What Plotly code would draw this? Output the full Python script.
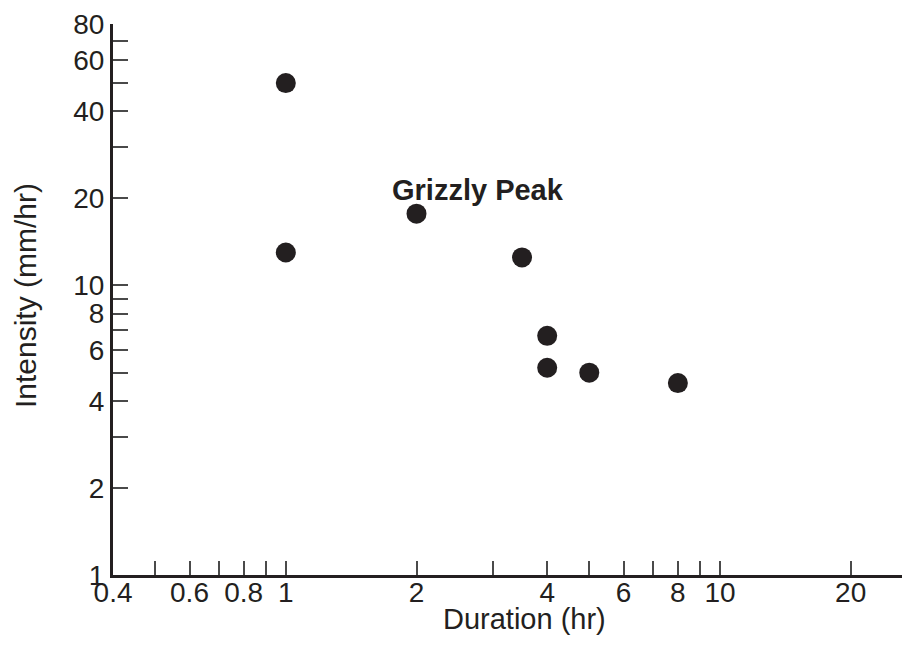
import math
import plotly.graph_objects as go

# ---- data ----
duration_hr = [1, 1, 2, 3.5, 4, 4, 5, 8]
intensity_mmhr = [50, 13, 17.7, 12.5, 6.7, 5.2, 5.0, 4.6]
label_text = "Grizzly Peak"
label_point = (2, 17.7)

# axis extents
x_min, x_max = 0.3999, 29.2
y_min, y_max = 1.0, 80.01

# tick labels / tick marks
x_label_vals = [0.4, 0.6, 0.8, 1, 2, 4, 6, 8, 10, 20]
x_label_text = ["0.4", "0.6", "0.8", "1", "2", "4", "6", "8", "10", "20"]
x_minor_bottom = [0.5, 0.7, 0.9, 3, 5, 7, 9]
x_long = [1, 10]
x_minor_top = [0.5, 1.111, 1.25, 1.4286, 1.6667, 2, 2.5, 3.333, 5,
               11.11, 12.5, 14.29, 16.67, 20]

y_label_vals = [1, 2, 4, 6, 8, 10, 20, 40, 60, 80]
y_label_text = ["1", "2", "4", "6", "8", "10", "20", "40", "60", "80"]
y_minor_left = [3, 5, 7, 9, 30, 50, 70]
y_long = [10]
y_minor_right = [2, 3, 4, 5, 6, 7, 8, 9, 20, 30, 40, 50, 60, 70]

INK = "#231f20"
TICK = "#4a4a4a"
FONT = "Liberation Sans, Arial, sans-serif"
TS = 28

xr = [math.log10(x_min), math.log10(x_max)]
yr = [math.log10(y_min), math.log10(y_max)]

fig = go.Figure()
fig.add_trace(go.Scatter(
    x=duration_hr, y=intensity_mmhr, mode="markers",
    marker=dict(size=20, color=INK, line=dict(width=0)),
    showlegend=False, hoverinfo="skip", cliponaxis=False,
))

common = dict(type="log", showgrid=False, zeroline=False)

fig.update_layout(
    width=914, height=638,
    margin=dict(l=105, r=0, t=16, b=71),
    paper_bgcolor="white", plot_bgcolor="white",
    font=dict(family=FONT, size=TS, color=INK),
    xaxis=dict(**common, range=xr, tickmode="array", tickvals=x_label_vals,
               ticktext=x_label_text, ticks="inside", ticklen=14, tickwidth=1.5,
               tickcolor=TICK, showline=True, linewidth=3, linecolor=INK,
               tickfont=dict(size=TS, color=INK), ticklabelstandoff=-10,
               minor=dict(tickmode="array", tickvals=x_minor_bottom, ticks="inside",
                          ticklen=14, tickwidth=1.5, tickcolor=TICK)),
    xaxis2=dict(**common, range=xr, overlaying="x", side="top", anchor="y",
                tickmode="array", tickvals=x_long, ticks="inside", ticklen=30,
                tickwidth=1.5, tickcolor=TICK, showticklabels=False,
                showline=True, linewidth=3, linecolor=INK,
                minor=dict(tickmode="array", tickvals=x_minor_top, ticks="inside",
                           ticklen=15, tickwidth=1.5, tickcolor=TICK)),
    xaxis3=dict(**common, range=xr, overlaying="x", side="bottom", anchor="y",
                tickmode="array", tickvals=x_long, ticks="inside", ticklen=29,
                tickwidth=1.5, tickcolor=INK, showticklabels=False, showline=False),
    yaxis=dict(**common, range=yr, tickmode="array", tickvals=y_label_vals,
               ticktext=y_label_text, ticks="inside", ticklen=15, tickwidth=1.5,
               tickcolor=TICK, showline=True, linewidth=3, linecolor=INK,
               tickfont=dict(size=TS, color=INK), ticklabelstandoff=0,
               minor=dict(tickmode="array", tickvals=y_minor_left, ticks="inside",
                          ticklen=15, tickwidth=1.5, tickcolor=TICK)),
    yaxis2=dict(**common, range=yr, overlaying="y", side="right", anchor="x",
                tickmode="array", tickvals=y_long, ticks="inside", ticklen=29,
                tickwidth=1.5, tickcolor=INK, showticklabels=False,
                showline=True, linewidth=3, linecolor=INK,
                minor=dict(tickmode="array", tickvals=y_minor_right, ticks="inside",
                           ticklen=15, tickwidth=1.5, tickcolor=TICK)),
    yaxis3=dict(**common, range=yr, overlaying="y", side="left", anchor="x",
                tickmode="array", tickvals=y_long, ticks="inside", ticklen=29,
                tickwidth=1.5, tickcolor=INK, showticklabels=False, showline=False),
)

fig.add_annotation(
    x=math.log10(label_point[0]), y=math.log10(label_point[1]), xref="x", yref="y",
    text="<b>" + label_text + "</b>", showarrow=False,
    xanchor="left", yanchor="middle", xshift=-27, yshift=24,
    font=dict(family=FONT, size=29, color=INK),
)
fig.add_annotation(
    x=0.509, y=-0.0795, xref="paper", yref="paper", text="Duration (hr)",
    showarrow=False, xanchor="center", yanchor="middle",
    font=dict(family=FONT, size=29, color=INK),
)
fig.add_annotation(
    x=-0.1088, y=0.508, xref="paper", yref="paper", text="Intensity (mm/hr)",
    showarrow=False, xanchor="center", yanchor="middle", textangle=-90,
    font=dict(family=FONT, size=30, color=INK),
)

fig.write_html("out.html")
